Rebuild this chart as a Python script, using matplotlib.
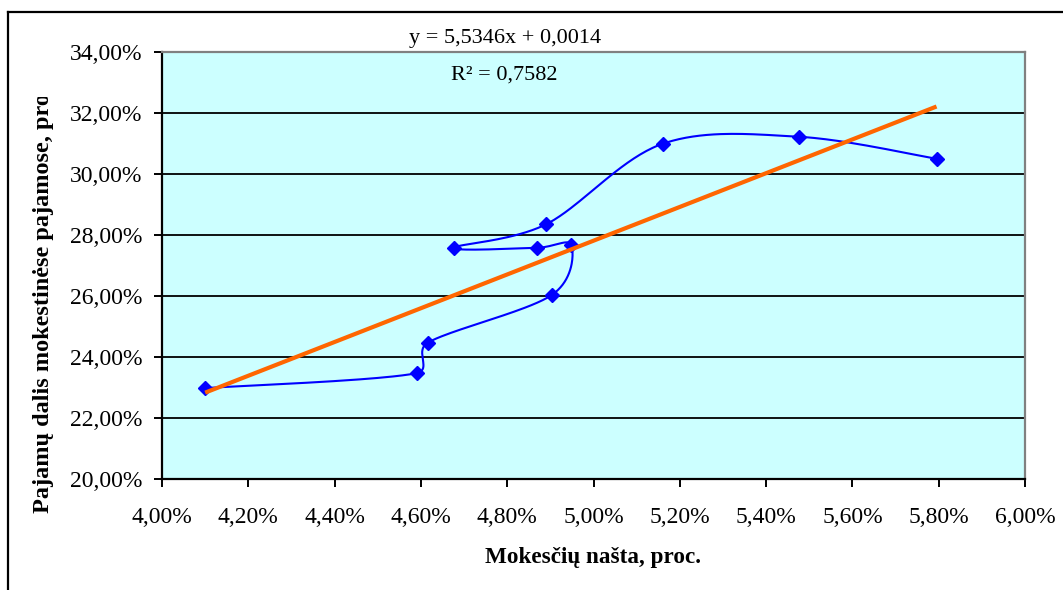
#!/usr/bin/env python3
"""Tax burden vs. share of revenue: smoothed scatter with a linear trend."""

import matplotlib.pyplot as plt
import numpy as np
from matplotlib.lines import Line2D
from matplotlib.transforms import Bbox, TransformedBbox

plt.rcParams["font.family"] = ["Liberation Serif", "DejaVu Serif"]

# tax burden, % (x) and share of revenue in tax revenue, % (y), in series order
burden = [4.10, 4.59, 4.616, 4.903, 4.949, 4.868, 4.677, 4.890, 5.160, 5.477, 5.795]
share = [22.98, 23.47, 24.47, 26.03, 27.66, 27.58, 27.58, 28.35, 30.99, 31.22, 30.50]

# linear trend reported on the chart (fractions, not percent)
slope, intercept = 5.5346, 0.0014
r2 = 0.7582

x_ticks = [4.0, 4.2, 4.4, 4.6, 4.8, 5.0, 5.2, 5.4, 5.6, 5.8, 6.0]
y_ticks = [20, 22, 24, 26, 28, 30, 32, 34]

BG = "#CCFFFF"
BLUE = "#0000FF"
ORANGE = "#FF6600"
FRAME = "#808080"

W, H, DPI = 1063, 590, 100


def pct(v):
    return f"{v:.2f}%".replace(".", ",")


def smooth(xs, ys, sx, sy, n=40):
    """Bezier smoothing in screen space, control points capped at half a segment."""
    p = np.column_stack([np.asarray(xs) * sx, np.asarray(ys) * sy])
    ext = np.vstack([p[0], p, p[-1]])
    out = [p[:1]]
    t = np.linspace(0, 1, n)[1:, None]
    for i in range(len(p) - 1):
        p0, p1, p2, p3 = ext[i], ext[i + 1], ext[i + 2], ext[i + 3]
        d12 = np.hypot(*(p2 - p1))
        d02 = np.hypot(*(p2 - p0))
        d13 = np.hypot(*(p3 - p1))
        f = min(1 / 6, d12 / 2 / d02) if d02 > 0 else 0
        g = min(1 / 6, d12 / 2 / d13) if d13 > 0 else 0
        c1 = p1 + f * (p2 - p0)
        c2 = p2 - g * (p3 - p1)
        seg = ((1 - t) ** 3) * p1 + 3 * ((1 - t) ** 2) * t * c1 \
            + 3 * (1 - t) * t ** 2 * c2 + t ** 3 * p2
        out.append(seg)
    pts = np.vstack(out)
    return pts[:, 0] / sx, pts[:, 1] / sy


fig = plt.figure(figsize=(W / DPI, H / DPI), dpi=DPI)
fig.patch.set_facecolor("white")

# chart frame (runs off the right and bottom edges)
fig.add_artist(Line2D([8 / W, 8 / W], [0, 1 - 12 / H], color="black", lw=1.6))
fig.add_artist(Line2D([8 / W, 1], [1 - 12 / H, 1 - 12 / H], color="black", lw=1.6))

left, right, top, bottom = 162, 1025, 52, 479
ax = fig.add_axes([left / W, 1 - bottom / H, (right - left) / W, (bottom - top) / H])
ax.set_facecolor(BG)
ax.set_xlim(4.0, 6.0)
ax.set_ylim(20, 34)

ax.set_xticks(x_ticks)
ax.set_yticks(y_ticks)
ax.set_xticklabels([pct(v) for v in x_ticks])
ax.set_yticklabels([pct(v) for v in y_ticks])
ax.tick_params(axis="both", direction="out", length=6, width=1.4,
               labelsize=17, color="black")
ax.tick_params(axis="x", pad=14)
ax.tick_params(axis="y", pad=8)

ax.grid(axis="y", color="black", lw=1.3)
ax.set_axisbelow(True)
for side in ("left", "bottom"):
    ax.spines[side].set_color("black")
    ax.spines[side].set_linewidth(1.6)
for side in ("top", "right"):
    ax.spines[side].set_color(FRAME)
    ax.spines[side].set_linewidth(1.6)

# smoothed series line + markers
sx = (right - left) / 2.0
sy = (bottom - top) / 14.0
cx, cy = smooth(burden, share, sx, sy)
ax.plot(cx, cy, color=BLUE, lw=1.5, zorder=3)
ax.plot(burden, share, ls="none", marker="D", ms=7.5, color=BLUE, zorder=4)

# linear trend across the data range
tx = np.array([min(burden), max(burden)])
ty = (slope * tx / 100 + intercept) * 100
ax.plot(tx, ty, color=ORANGE, lw=3, zorder=5, solid_capstyle="butt")

fig.text(409 / W, 1 - 38 / H, f"y = {slope:.4f}x + {intercept:.4f}".replace(".", ","),
         fontsize=16, ha="left", va="center")
fig.text(451 / W, 1 - 75 / H, f"R² = {r2:.4f}".replace(".", ","),
         fontsize=16, ha="left", va="center")

fig.text(593 / W, 1 - 558 / H, "Mokesčių našta, proc.", fontsize=16.7,
         weight="bold", ha="center", va="center")

ylab = fig.text(44 / W, 1 - 513 / H, "Pajamų dalis mokestinėse pajamose, proc.",
                fontsize=17.5, weight="bold", rotation=90, ha="center", va="bottom")
ylab.set_clip_box(TransformedBbox(Bbox([[0, 0], [1, 1 - 97 / H]]), fig.transFigure))
ylab.set_clip_on(True)

fig.savefig("out.png", dpi=DPI)
